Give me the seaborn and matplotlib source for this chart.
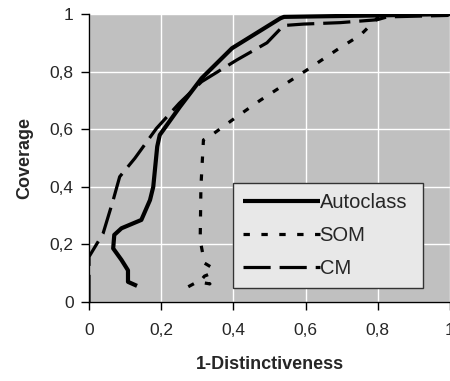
import matplotlib
matplotlib.use("Agg")
import matplotlib.pyplot as plt
import seaborn as sns
import pandas as pd

auto_x = [0.133, 0.108, 0.108, 0.09, 0.067, 0.07, 0.09, 0.145, 0.169, 0.178, 0.189, 0.196, 0.252, 0.312, 0.396, 0.53, 0.54, 0.80, 1.0]
auto_y = [0.056, 0.07, 0.11, 0.146, 0.186, 0.233, 0.256, 0.285, 0.354, 0.40, 0.54, 0.58, 0.678, 0.777, 0.881, 0.985, 0.99, 0.995, 1.0]

som_x = [0.275, 0.30, 0.335, 0.31, 0.32, 0.34, 0.34, 0.32, 0.308, 0.31, 0.317, 0.34, 0.409, 0.474, 0.604, 0.692, 0.752, 0.794, 0.803, 1.0]
som_y = [0.053, 0.07, 0.063, 0.075, 0.09, 0.10, 0.12, 0.135, 0.215, 0.40, 0.5625, 0.58, 0.643, 0.70, 0.806, 0.88, 0.927, 0.979, 0.995, 1.0]

cm_x = [0.0, 0.0, 0.039, 0.067, 0.085, 0.127, 0.187, 0.25, 0.312, 0.409, 0.493, 0.539, 0.594, 0.696, 0.798, 0.826, 0.993, 1.0]
cm_y = [0.0, 0.157, 0.238, 0.354, 0.435, 0.499, 0.603, 0.69, 0.765, 0.84, 0.90, 0.96, 0.965, 0.97, 0.98, 0.99, 0.995, 1.0]

series_names = ["Autoclass", "SOM", "CM"]
tick_vals = [0, 0.2, 0.4, 0.6, 0.8, 1.0]
tick_labels = ["0", "0,2", "0,4", "0,6", "0,8", "1"]

sns.set_style("white")
plt.rcParams['font.family'] = ['Liberation Sans', 'DejaVu Sans']

fig = plt.figure(figsize=(4.5, 3.81), dpi=100)
ax = fig.add_axes([89/450, 79/381, 361/450, 288/381])
ax.set_facecolor("#c0c0c0")

data = {"Autoclass": (auto_x, auto_y), "SOM": (som_x, som_y), "CM": (cm_x, cm_y)}
styles = {
    "Autoclass": dict(lw=3.0, dashes=None),
    "SOM": dict(lw=2.3, dashes=(2.0, 3.6)),
    "CM": dict(lw=2.3, dashes=(8.5, 2.8)),
}
for name in series_names:
    xs, ys = data[name]
    df = pd.DataFrame({"x": xs, "y": ys})
    sns.lineplot(data=df, x="x", y="y", sort=False, estimator=None, ax=ax,
                 color="black", lw=styles[name]["lw"], label=name)
    ln = ax.lines[-1]
    if styles[name]["dashes"] is not None:
        ln.set_dashes(styles[name]["dashes"])
    ln.set_solid_capstyle("butt")
    ln.set_dash_capstyle("butt")

ax.set_xlim(0, 1.0)
ax.set_ylim(0, 1.0)
ax.set_xticks(tick_vals)
ax.set_xticklabels(tick_labels)
ax.set_yticks(tick_vals)
ax.set_yticklabels(tick_labels)
ax.grid(True, color="white", lw=1.0)
ax.set_axisbelow(True)
for s in ["top", "right"]:
    ax.spines[s].set_visible(False)
for s in ["left", "bottom"]:
    ax.spines[s].set_color("black")
    ax.spines[s].set_linewidth(1.0)
ax.tick_params(axis="both", direction="out", length=6, width=1, color="black",
               labelsize=12.5, pad=5, bottom=True, left=True)
ax.tick_params(axis="x", pad=9)
ax.set_xlabel("1-Distinctiveness", fontsize=13, fontweight="bold", labelpad=13)
ax.set_ylabel("Coverage", fontsize=13, fontweight="bold", labelpad=12)

leg = ax.legend(loc="lower left", bbox_to_anchor=(144/361, 14/288, 190/361, 103/288),
                mode="expand", fontsize=14.5, frameon=True, fancybox=False,
                handlelength=3.8, handletextpad=0.0, labelspacing=0.7,
                borderpad=0.5, borderaxespad=0)
leg.get_frame().set_facecolor("#e8e8e8")
leg.get_frame().set_edgecolor("#333333")
leg.get_frame().set_alpha(1)
leg.get_frame().set_linewidth(1.0)

fig.savefig("out.png", dpi=100)
